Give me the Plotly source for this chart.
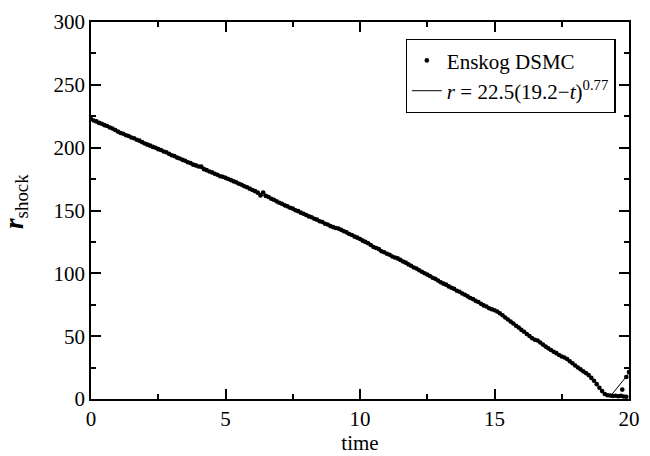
import numpy as np
import plotly.graph_objects as go

# Enskog DSMC data, sampled every 0.1 time units from t=0 to t=19.7
r_dsmc = [
    222.8, 221.6, 220.9, 219.7, 219.0, 217.9, 217.2, 216.0, 215.3, 214.0,
    212.8, 211.7, 211.1, 209.9, 209.3, 208.1, 207.5, 206.3, 205.6, 204.4,
    203.3, 202.4, 201.6, 200.6, 199.9, 198.8, 198.2, 197.0, 196.3, 195.2,
    194.0, 193.3, 192.1, 191.4, 190.3, 189.6, 188.4, 187.7, 186.5, 185.9,
    185.0, 184.9, 182.9, 182.1, 181.0, 180.3, 179.2, 178.5, 177.3, 176.8,
    176.0, 175.1, 174.2, 173.2, 172.4, 171.3, 170.5, 169.3, 168.5, 167.4,
    166.3, 165.4, 164.2, 162.0, 164.3, 161.6, 160.7, 159.4, 158.6, 157.3,
    156.2, 155.4, 154.1, 153.3, 152.2, 151.5, 150.2, 149.5, 148.3, 147.4,
    146.4, 145.3, 144.6, 143.4, 142.7, 141.5, 140.8, 139.5, 138.9, 137.6,
    136.8, 136.1, 135.6, 134.6, 133.5, 132.6, 131.3, 130.5, 129.2, 128.4,
    127.3, 126.0, 125.0, 123.9, 122.6, 121.0, 120.1, 119.3, 117.6, 116.8,
    115.6, 114.8, 113.4, 112.6, 111.9, 110.7, 109.4, 108.5, 107.1, 106.0,
    104.6, 103.8, 102.4, 101.3, 100.1, 99.0, 97.9, 96.5, 95.6, 94.3,
    92.9, 91.8, 91.0, 89.6, 88.5, 87.6, 86.2, 85.3, 84.0, 82.9,
    81.7, 80.4, 79.5, 78.1, 77.2, 75.7, 74.5, 73.6, 72.2, 71.4,
    70.6, 69.6, 68.2, 66.6, 64.9, 63.3, 61.6, 60.1, 58.3, 56.8,
    55.0, 53.5, 51.7, 50.1, 48.4, 47.2, 46.6, 45.0, 43.3, 41.7,
    40.3, 39.0, 37.6, 36.5, 35.0, 33.8, 33.0, 31.8, 30.0, 28.4,
    26.7, 25.1, 23.6, 22.0, 20.6, 19.0, 16.8, 14.5, 11.8, 9.0,
    6.3, 4.0, 3.0, 2.8, 2.4, 2.6, 2.2, 2.5,
]
t_dsmc = list(np.round(np.arange(len(r_dsmc)) * 0.1, 1))

# scattered points after the collapse
t_tail = [19.75, 19.8, 19.9, 19.9, 20.0]
r_tail = [7.5, 2.0, 1.8, 17.5, 21.5]

# fit curve r = 22.5(19.2 - t)^0.77, as drawn on the chart (mostly hidden under the data)
t_fit = [0, 1, 2, 3, 4, 5, 6, 7, 8, 9, 10, 11, 12, 13, 14, 15, 16, 16.5, 17,
         17.5, 18, 18.5, 18.8, 19.0, 19.1, 19.3, 19.5, 19.7, 20.0]
r_fit = [221.8, 212.3, 203.0, 193.7, 184.4, 175.5, 166.0, 155.8, 146.0, 136.5,
         127.0, 115.4, 104.3, 92.6, 81.4, 70.6, 55.3, 47.6, 40.5, 33.8, 26.6,
         18.8, 11.6, 6.4, 4.0, 2.0, 7.2, 12.2, 20.5]

x_ticks = [0, 5, 10, 15, 20]
y_ticks = [0, 50, 100, 150, 200, 250, 300]

FONT = "Liberation Serif"

fig = go.Figure()
fig.add_trace(go.Scatter(
    x=t_fit, y=r_fit, mode="lines",
    line=dict(color="black", width=1),
    name="<i>r</i> = 22.5(19.2\u2212<i>t</i>)<sup>0.77</sup>",
    legendrank=2,
))
fig.add_trace(go.Scatter(
    x=t_dsmc + t_tail, y=r_dsmc + r_tail, mode="markers",
    marker=dict(color="black", size=4.6),
    name="Enskog DSMC",
    legendrank=1,
))

axis_common = dict(
    showline=True, linecolor="black", linewidth=1.5, mirror="ticks",
    ticks="inside", ticklen=10, tickwidth=1.5, tickcolor="black",
    showgrid=False, zeroline=False,
    tickfont=dict(family=FONT, size=21, color="black"),
)

fig.update_xaxes(
    range=[0, 20], tickvals=x_ticks, ticktext=[str(v) for v in x_ticks],
    minor=dict(dtick=2.5, ticks="inside", ticklen=5, tickwidth=1.5, tickcolor="black"),
    title=dict(text="time", font=dict(family=FONT, size=21, color="black"), standoff=0),
    **axis_common,
)
fig.update_yaxes(
    range=[0, 300], tickvals=y_ticks, ticktext=[str(v) for v in y_ticks],
    minor=dict(dtick=25, ticks="inside", ticklen=5, tickwidth=1.5, tickcolor="black"),
    **axis_common,
)

fig.add_annotation(
    text="<i><b>r</b></i><sub>shock</sub>", xref="paper", yref="paper",
    x=-0.175, y=0.525, xanchor="left", showarrow=False, textangle=-90,
    font=dict(family=FONT, size=27, color="black"),
)

fig.update_layout(
    width=650, height=456,
    margin=dict(l=91, r=10, t=20, b=53),
    plot_bgcolor="white", paper_bgcolor="white",
    showlegend=True,
    legend=dict(
        x=0.975, y=0.955, xanchor="right", yanchor="top",
        bordercolor="black", borderwidth=1.3, bgcolor="white",
        font=dict(family=FONT, size=21, color="black"),
        itemwidth=30, tracegroupgap=0,
    ),
)

fig.write_html("out.html")
